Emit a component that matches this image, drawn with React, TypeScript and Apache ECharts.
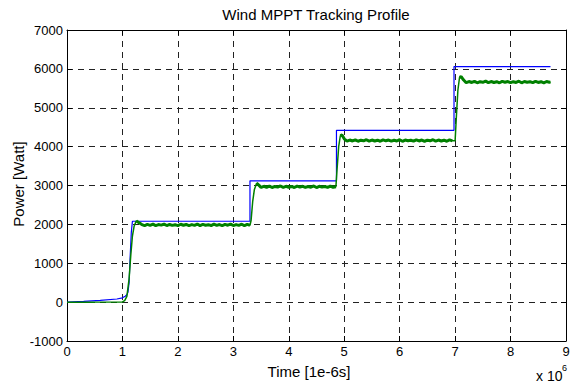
import React, { useEffect, useRef } from "react";
import * as echarts from "echarts";

const xTicks = [0, 1, 2, 3, 4, 5, 6, 7, 8, 9];
const yTicks = [-1000, 0, 1000, 2000, 3000, 4000, 5000, 6000, 7000];

const blueTime = [0, 0.3, 0.6, 0.9, 1.0, 1.05, 1.08, 1.1, 1.12, 1.14, 1.16, 1.18, 3.3, 3.3, 4.86, 4.86, 6.98, 6.98, 8.72];
const bluePower = [0, 20, 45, 80, 110, 150, 190, 260, 500, 1200, 1800, 2080, 2080, 3120, 3120, 4420, 4420, 6060, 6060];

const greenStartTime = [0, 0.5, 1.0, 1.04, 1.08, 1.12, 1.15, 1.18, 1.21, 1.25, 1.3, 1.35];
const greenStartPower = [0, 0, 5, 40, 150, 600, 1200, 1700, 1950, 2090, 2040, 1995];

const greenL1Time = [1.4, 1.45, 1.5, 1.55, 1.6, 1.65, 1.7, 1.75, 1.8, 1.85, 1.9, 1.95, 2.0, 2.05, 2.1, 2.15, 2.2, 2.25, 2.3, 2.35, 2.4, 2.45, 2.5, 2.55, 2.6, 2.65, 2.7, 2.75, 2.8, 2.85, 2.9, 2.95, 3.0, 3.05, 3.1, 3.15, 3.2, 3.25, 3.3];
const greenL1Power = [1970, 2000, 1975, 2005, 1968, 1995, 1980, 2008, 1970, 1998, 1975, 1992, 1968, 2004, 1978, 1998, 1970, 1995, 1975, 2008, 1968, 2000, 1978, 1992, 1970, 2005, 1975, 1996, 1968, 2000, 1978, 2008, 1970, 1995, 1975, 2004, 1968, 2000, 1978];

const greenRise2Time = [3.32, 3.35, 3.38, 3.42, 3.46];
const greenRise2Power = [2100, 2600, 2900, 3060, 3010];

const greenL2Time = [3.5, 3.55, 3.6, 3.65, 3.7, 3.75, 3.8, 3.85, 3.9, 3.95, 4.0, 4.05, 4.1, 4.15, 4.2, 4.25, 4.3, 4.35, 4.4, 4.45, 4.5, 4.55, 4.6, 4.65, 4.7, 4.75, 4.8, 4.85];
const greenL2Power = [2950, 2980, 2955, 2985, 2948, 2975, 2958, 2988, 2950, 2980, 2955, 2975, 2948, 2985, 2958, 2980, 2950, 2975, 2955, 2988, 2948, 2980, 2958, 2975, 2950, 2985, 2955, 2970];

const greenRise3Time = [4.87, 4.9, 4.93, 4.96, 5.0];
const greenRise3Power = [3400, 4000, 4280, 4300, 4200];

const greenL3Time = [5.05, 5.1, 5.15, 5.2, 5.25, 5.3, 5.35, 5.4, 5.45, 5.5, 5.55, 5.6, 5.65, 5.7, 5.75, 5.8, 5.85, 5.9, 5.95, 6.0, 6.05, 6.1, 6.15, 6.2, 6.25, 6.3, 6.35, 6.4, 6.45, 6.5, 6.55, 6.6, 6.65, 6.7, 6.75, 6.8, 6.85, 6.9, 6.95];
const greenL3Power = [4140, 4170, 4145, 4175, 4138, 4165, 4150, 4178, 4140, 4170, 4145, 4165, 4138, 4175, 4150, 4170, 4140, 4165, 4145, 4178, 4138, 4170, 4150, 4165, 4140, 4175, 4145, 4170, 4138, 4165, 4150, 4178, 4140, 4170, 4145, 4165, 4138, 4175, 4150];

const greenRise4Time = [7.0, 7.02, 7.05, 7.08, 7.11, 7.15];
const greenRise4Power = [4150, 4700, 5450, 5780, 5800, 5720];

const greenL4Time = [7.2, 7.25, 7.3, 7.35, 7.4, 7.45, 7.5, 7.55, 7.6, 7.65, 7.7, 7.75, 7.8, 7.85, 7.9, 7.95, 8.0, 8.05, 8.1, 8.15, 8.2, 8.25, 8.3, 8.35, 8.4, 8.45, 8.5, 8.55, 8.6, 8.65, 8.7, 8.72];
const greenL4Power = [5645, 5675, 5650, 5680, 5642, 5670, 5655, 5683, 5645, 5675, 5650, 5670, 5642, 5680, 5655, 5675, 5645, 5670, 5650, 5683, 5642, 5675, 5655, 5670, 5645, 5680, 5650, 5670, 5642, 5675, 5655, 5660];

function zip(t: number[], p: number[]) {
  const n = Math.min(t.length, p.length);
  const out: any[] = [];
  for (let i = 0; i < n; i++) out.push([t[i], p[i]]);
  return out;
}

export default function App() {
  const ref = useRef<HTMLDivElement>(null);
  useEffect(() => {
    if (!ref.current) return;
    const chart = echarts.init(ref.current, null, { renderer: "svg" });
    const font = "Liberation Sans, Arial, Helvetica, sans-serif";
    const blueData = zip(blueTime, bluePower);
    const l1 = zip(greenL1Time, greenL1Power);
    const l2 = zip(greenL2Time, greenL2Power);
    const l3 = zip(greenL3Time, greenL3Power);
    const l4 = zip(greenL4Time, greenL4Power);
    const r2 = zip(greenRise2Time, greenRise2Power);
    const r3 = zip(greenRise3Time, greenRise3Power);
    const r4 = zip(greenRise4Time, greenRise4Power);
    const greenData = [
      ...zip(greenStartTime, greenStartPower),
      ...l1, ...r2, ...l2, ...r3, ...l3, ...r4, ...l4,
    ];
    const plateauData = [
      ...zip(greenStartTime.slice(9), greenStartPower.slice(9)), ...l1, "-",
      ...r2.slice(3), ...l2, "-",
      ...r3.slice(2), ...l3, "-",
      ...r4.slice(3), ...l4,
    ];
    const xMin = xTicks[0];
    const xMax = xTicks[xTicks.length - 1];
    const yMin = yTicks[0];
    const yMax = yTicks[yTicks.length - 1];
    const gridDash = { show: true, lineStyle: { color: "#222", type: [6, 5] as any, width: 1 } };
    const axisCommon = {
      type: "value" as const,
      axisLine: { show: true, onZero: false, lineStyle: { color: "#000", width: 1 } },
      axisTick: { show: true, inside: true, length: 5, lineStyle: { color: "#000" } },
    };
    const labelStyle = { color: "#000", fontSize: 13, margin: 4, fontFamily: font, formatter: (v: number) => String(v) };
    chart.setOption({
      animation: false,
      backgroundColor: "#fff",
      textStyle: { fontFamily: font },
      grid: { left: 67, right: 16, top: 30, bottom: 46, containLabel: false },
      xAxis: [
        { ...axisCommon, position: "bottom", min: xMin, max: xMax, interval: 1, splitLine: gridDash, axisLabel: labelStyle },
        { ...axisCommon, position: "top", min: xMin, max: xMax, interval: 1, splitLine: { show: false }, axisLabel: { show: false } },
      ],
      yAxis: [
        { ...axisCommon, position: "left", min: yMin, max: yMax, interval: 1000, splitLine: gridDash, axisLabel: labelStyle },
        { ...axisCommon, position: "right", min: yMin, max: yMax, interval: 1000, splitLine: { show: false }, axisLabel: { show: false } },
      ],
      series: [
        {
          type: "line",
          name: "Reference",
          data: blueData,
          showSymbol: false,
          lineStyle: { color: "#0000ff", width: 1.2 },
          z: 3,
        },
        {
          type: "line",
          name: "Tracked",
          data: greenData,
          showSymbol: false,
          lineStyle: { color: "#008000", width: 1.5 },
          z: 4,
        },
        {
          type: "line",
          name: "TrackedBand",
          data: plateauData,
          showSymbol: false,
          connectNulls: false,
          lineStyle: { color: "#008000", width: 3 },
          z: 4,
        },
      ],
      graphic: [
        {
          type: "text",
          x: 316,
          y: 14,
          style: { text: "Wind MPPT Tracking Profile", fill: "#000", font: `15px ${font}`, textAlign: "center", textVerticalAlign: "middle" },
        },
        {
          type: "text",
          x: 309,
          y: 371,
          style: { text: "Time [1e-6s]", fill: "#000", font: `15px ${font}`, textAlign: "center", textVerticalAlign: "middle" },
        },
        {
          type: "text",
          x: 18,
          y: 184,
          rotation: Math.PI / 2,
          style: { text: "Power [Watt]", fill: "#000", font: `15px ${font}`, textAlign: "center", textVerticalAlign: "middle" },
        },
        {
          type: "text",
          x: 536,
          y: 376,
          style: { text: "x 10", fill: "#000", font: `14px ${font}`, textAlign: "left", textVerticalAlign: "middle" },
        },
        {
          type: "text",
          x: 562,
          y: 368,
          style: { text: "6", fill: "#000", font: `9px ${font}`, textAlign: "left", textVerticalAlign: "middle" },
        },
      ],
    });
    return () => chart.dispose();
  }, []);
  return (
    <div
      ref={ref}
      style={{ position: "fixed", left: 0, top: 0, width: 582, height: 387 }}
    />
  );
}
